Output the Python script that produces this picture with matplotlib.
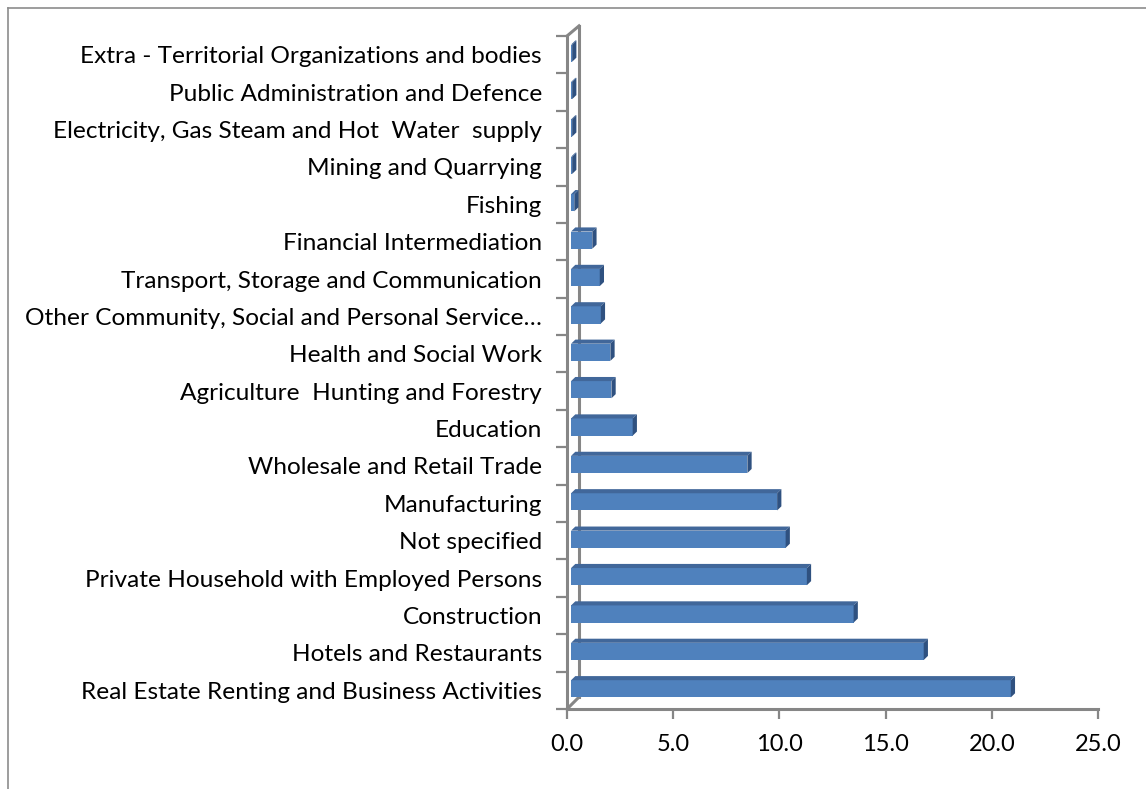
import matplotlib.pyplot as plt
from matplotlib.patches import Polygon
from matplotlib.lines import Line2D

# Data (bottom to top)
categories = [
    'Real Estate Renting and Business Activities',
    'Hotels and Restaurants',
    'Construction',
    'Private Household with Employed Persons',
    'Not specified',
    'Manufacturing',
    'Wholesale and Retail Trade',
    'Education',
    'Agriculture  Hunting and Forestry',
    'Health and Social Work',
    'Other Community, Social and Personal Service\u2026',
    'Transport, Storage and Communication',
    'Financial Intermediation',
    'Fishing',
    'Mining and Quarrying',
    'Electricity, Gas Steam and Hot  Water  supply',
    'Public Administration and Defence',
    'Extra - Territorial Organizations and bodies',
]
values = [20.7, 16.6, 13.3, 11.1, 10.1, 9.7, 8.3, 2.9, 1.9, 1.85,
          1.4, 1.35, 1.0, 0.15, 0.05, 0.05, 0.05, 0.05]
xticks = [0, 5, 10, 15, 20, 25]

plt.rcParams['font.family'] = ['Lato', 'DejaVu Sans']

FRONT = '#4F81BD'
TOP = '#41679A'
SIDE = '#2F5180'
AXIS = '#868686'

fig = plt.figure(figsize=(11.46, 7.89), dpi=100)
ax = fig.add_axes([0.4948, 0.1014, 0.4634, 0.853])

# 3D depth offsets (data units)
DX = 0.2
DY = 0.11
X0 = 0.19
H = 0.46
YOFF = 0.04

y = list(range(len(categories)))
ax.barh([i + YOFF for i in y], values, height=H, left=X0, color=FRONT,
        edgecolor='none', zorder=3)
for i, v in zip(y, values):
    yb = i + YOFF - H / 2
    yt = i + YOFF + H / 2
    top = Polygon([(X0, yt), (X0 + v, yt), (X0 + v + DX, yt + DY), (X0 + DX, yt + DY)],
                  closed=True, facecolor=TOP, edgecolor='none', zorder=3)
    side = Polygon([(X0 + v, yb), (X0 + v + DX, yb + DY), (X0 + v + DX, yt + DY), (X0 + v, yt)],
                   closed=True, facecolor=SIDE, edgecolor='none', zorder=3)
    ax.add_patch(top)
    ax.add_patch(side)

ax.set_xlim(0, 25)
ax.set_ylim(-0.5, len(categories) - 0.5)

# back wall of the 3D frame
WX = 0.565
ax.add_line(Line2D([WX, WX], [-0.18, len(categories) - 0.5 + 0.27], color=AXIS, lw=2.2,
                   clip_on=False, zorder=2))
ax.add_line(Line2D([0, WX], [len(categories) - 0.5, len(categories) - 0.5 + 0.27],
                   color=AXIS, lw=2.2, clip_on=False, zorder=2))
ax.add_line(Line2D([0, WX], [-0.5, -0.18], color=AXIS, lw=2.2, clip_on=False, zorder=2))

for s in ['top', 'right']:
    ax.spines[s].set_visible(False)
for s in ['left', 'bottom']:
    ax.spines[s].set_color(AXIS)
    ax.spines[s].set_linewidth(2.2)

ax.set_yticks(y)
ax.set_yticklabels(categories, fontsize=17.6)
ax.set_yticks([i - 0.5 for i in range(len(categories) + 1)], minor=True)
ax.tick_params(axis='y', which='major', length=0, pad=18)
ax.tick_params(axis='y', which='minor', length=8, width=1.6, color=AXIS)

ax.set_xticks(xticks)
ax.set_xticklabels([f'{t:.1f}' for t in xticks], fontsize=17)
ax.tick_params(axis='x', length=7, width=1.6, color=AXIS, pad=11)

# outer chart border (left and top)
fig.add_artist(Line2D([8 / 1146, 8 / 1146], [0, 1 - 8 / 789], color='#8c8c8c', lw=1.2,
                      transform=fig.transFigure))
fig.add_artist(Line2D([8 / 1146, 1], [1 - 8 / 789, 1 - 8 / 789], color='#8c8c8c', lw=1.2,
                      transform=fig.transFigure))

fig.savefig('out.png', dpi=100)
